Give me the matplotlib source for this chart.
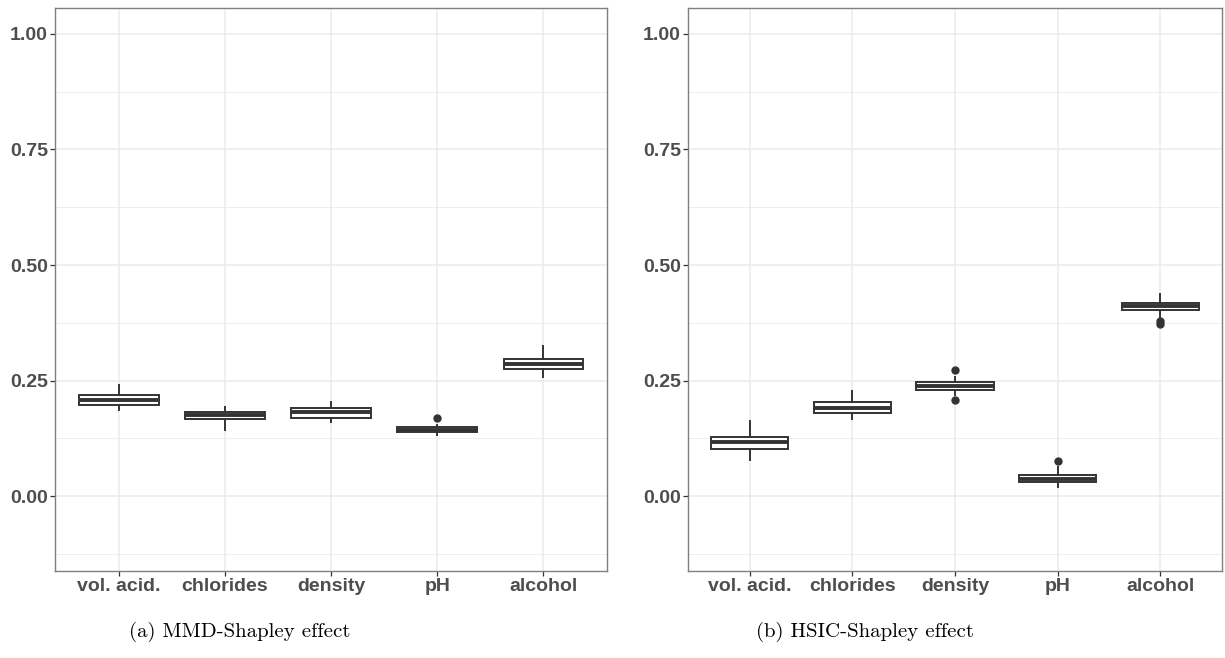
import numpy as np
import matplotlib
matplotlib.use("Agg")
import matplotlib.pyplot as plt
from matplotlib.ticker import MultipleLocator

CATS = ["vol. acid.", "chlorides", "density", "pH", "alcohol"]

# MMD-Shapley effect: whisker low, q1, median, q3, whisker high
mmd_whislo = [0.187, 0.144, 0.161, 0.133, 0.257]
mmd_q1 = [0.198, 0.167, 0.170, 0.1385, 0.275]
mmd_med = [0.209, 0.176, 0.182, 0.1435, 0.285]
mmd_q3 = [0.219, 0.183, 0.190, 0.150, 0.297]
mmd_whishi = [0.240, 0.193, 0.203, 0.154, 0.325]
mmd_fliers = [[], [], [], [0.168], []]

# HSIC-Shapley effect
hsic_whislo = [0.079, 0.166, 0.219, 0.020, 0.387]
hsic_q1 = [0.102, 0.180, 0.230, 0.030, 0.403]
hsic_med = [0.118, 0.191, 0.238, 0.0375, 0.411]
hsic_q3 = [0.128, 0.203, 0.246, 0.045, 0.418]
hsic_whishi = [0.162, 0.227, 0.258, 0.062, 0.437]
hsic_fliers = [[], [], [0.272, 0.208], [0.0765], [0.379, 0.372]]

CAPTIONS = ["(a) MMD-Shapley effect", "(b) HSIC-Shapley effect"]

TXT = "#4d4d4d"
GRID = "#ebebeb"
EDGE = "#333333"


def make_stats(lo, q1, med, q3, hi, fl):
    return [dict(whislo=a, q1=b, med=c, q3=d, whishi=e, fliers=f)
            for a, b, c, d, e, f in zip(lo, q1, med, q3, hi, fl)]


def panel(ax, stats):
    pos = np.arange(1, len(CATS) + 1)
    ax.bxp(stats, positions=pos, widths=0.75, showcaps=False, patch_artist=True,
           boxprops=dict(facecolor="white", edgecolor=EDGE, linewidth=1.4),
           medianprops=dict(color=EDGE, linewidth=2.8),
           whiskerprops=dict(color=EDGE, linewidth=1.4),
           flierprops=dict(marker="o", markerfacecolor=EDGE, markeredgecolor=EDGE,
                           markersize=5))
    ax.set_xlim(0.4, len(CATS) + 0.6)
    ax.set_ylim(-0.162, 1.056)
    ax.set_xticks(pos)
    ax.set_xticklabels(CATS)
    ax.yaxis.set_major_locator(MultipleLocator(0.25))
    ax.yaxis.set_minor_locator(MultipleLocator(0.125))
    ax.yaxis.set_major_formatter(plt.FormatStrFormatter("%.2f"))
    ax.grid(True, which="major", color=GRID, linewidth=1.1)
    ax.grid(True, which="minor", axis="y", color=GRID, linewidth=0.6)
    ax.set_axisbelow(True)
    ax.tick_params(which="major", length=3.5, width=0.9, color=EDGE, labelcolor=TXT,
                   labelsize=14, pad=1.5)
    ax.tick_params(which="minor", length=0)
    for lab in ax.get_xticklabels() + ax.get_yticklabels():
        lab.set_fontweight("bold")
    for s in ax.spines.values():
        s.set_color("#7f7f7f")
        s.set_linewidth(1.0)


plt.rcParams["font.family"] = ["Liberation Sans", "DejaVu Sans"]
fig = plt.figure(figsize=(12.25, 6.58), dpi=100)
W, H = 1225, 658
ax1 = fig.add_axes([55 / W, 1 - 571 / H, (607 - 55) / W, (571 - 8) / H])
ax2 = fig.add_axes([688 / W, 1 - 571 / H, (1222 - 688) / W, (571 - 8) / H])

panel(ax1, make_stats(mmd_whislo, mmd_q1, mmd_med, mmd_q3, mmd_whishi, mmd_fliers))
panel(ax2, make_stats(hsic_whislo, hsic_q1, hsic_med, hsic_q3, hsic_whishi, hsic_fliers))

fig.text(240 / W, 1 - 632 / H, CAPTIONS[0], ha="center", va="center",
         fontsize=15, family=["cmr10", "DejaVu Serif"])
fig.text(865 / W, 1 - 632 / H, CAPTIONS[1], ha="center", va="center",
         fontsize=15, family=["cmr10", "DejaVu Serif"])

fig.savefig("out.png", dpi=100)
